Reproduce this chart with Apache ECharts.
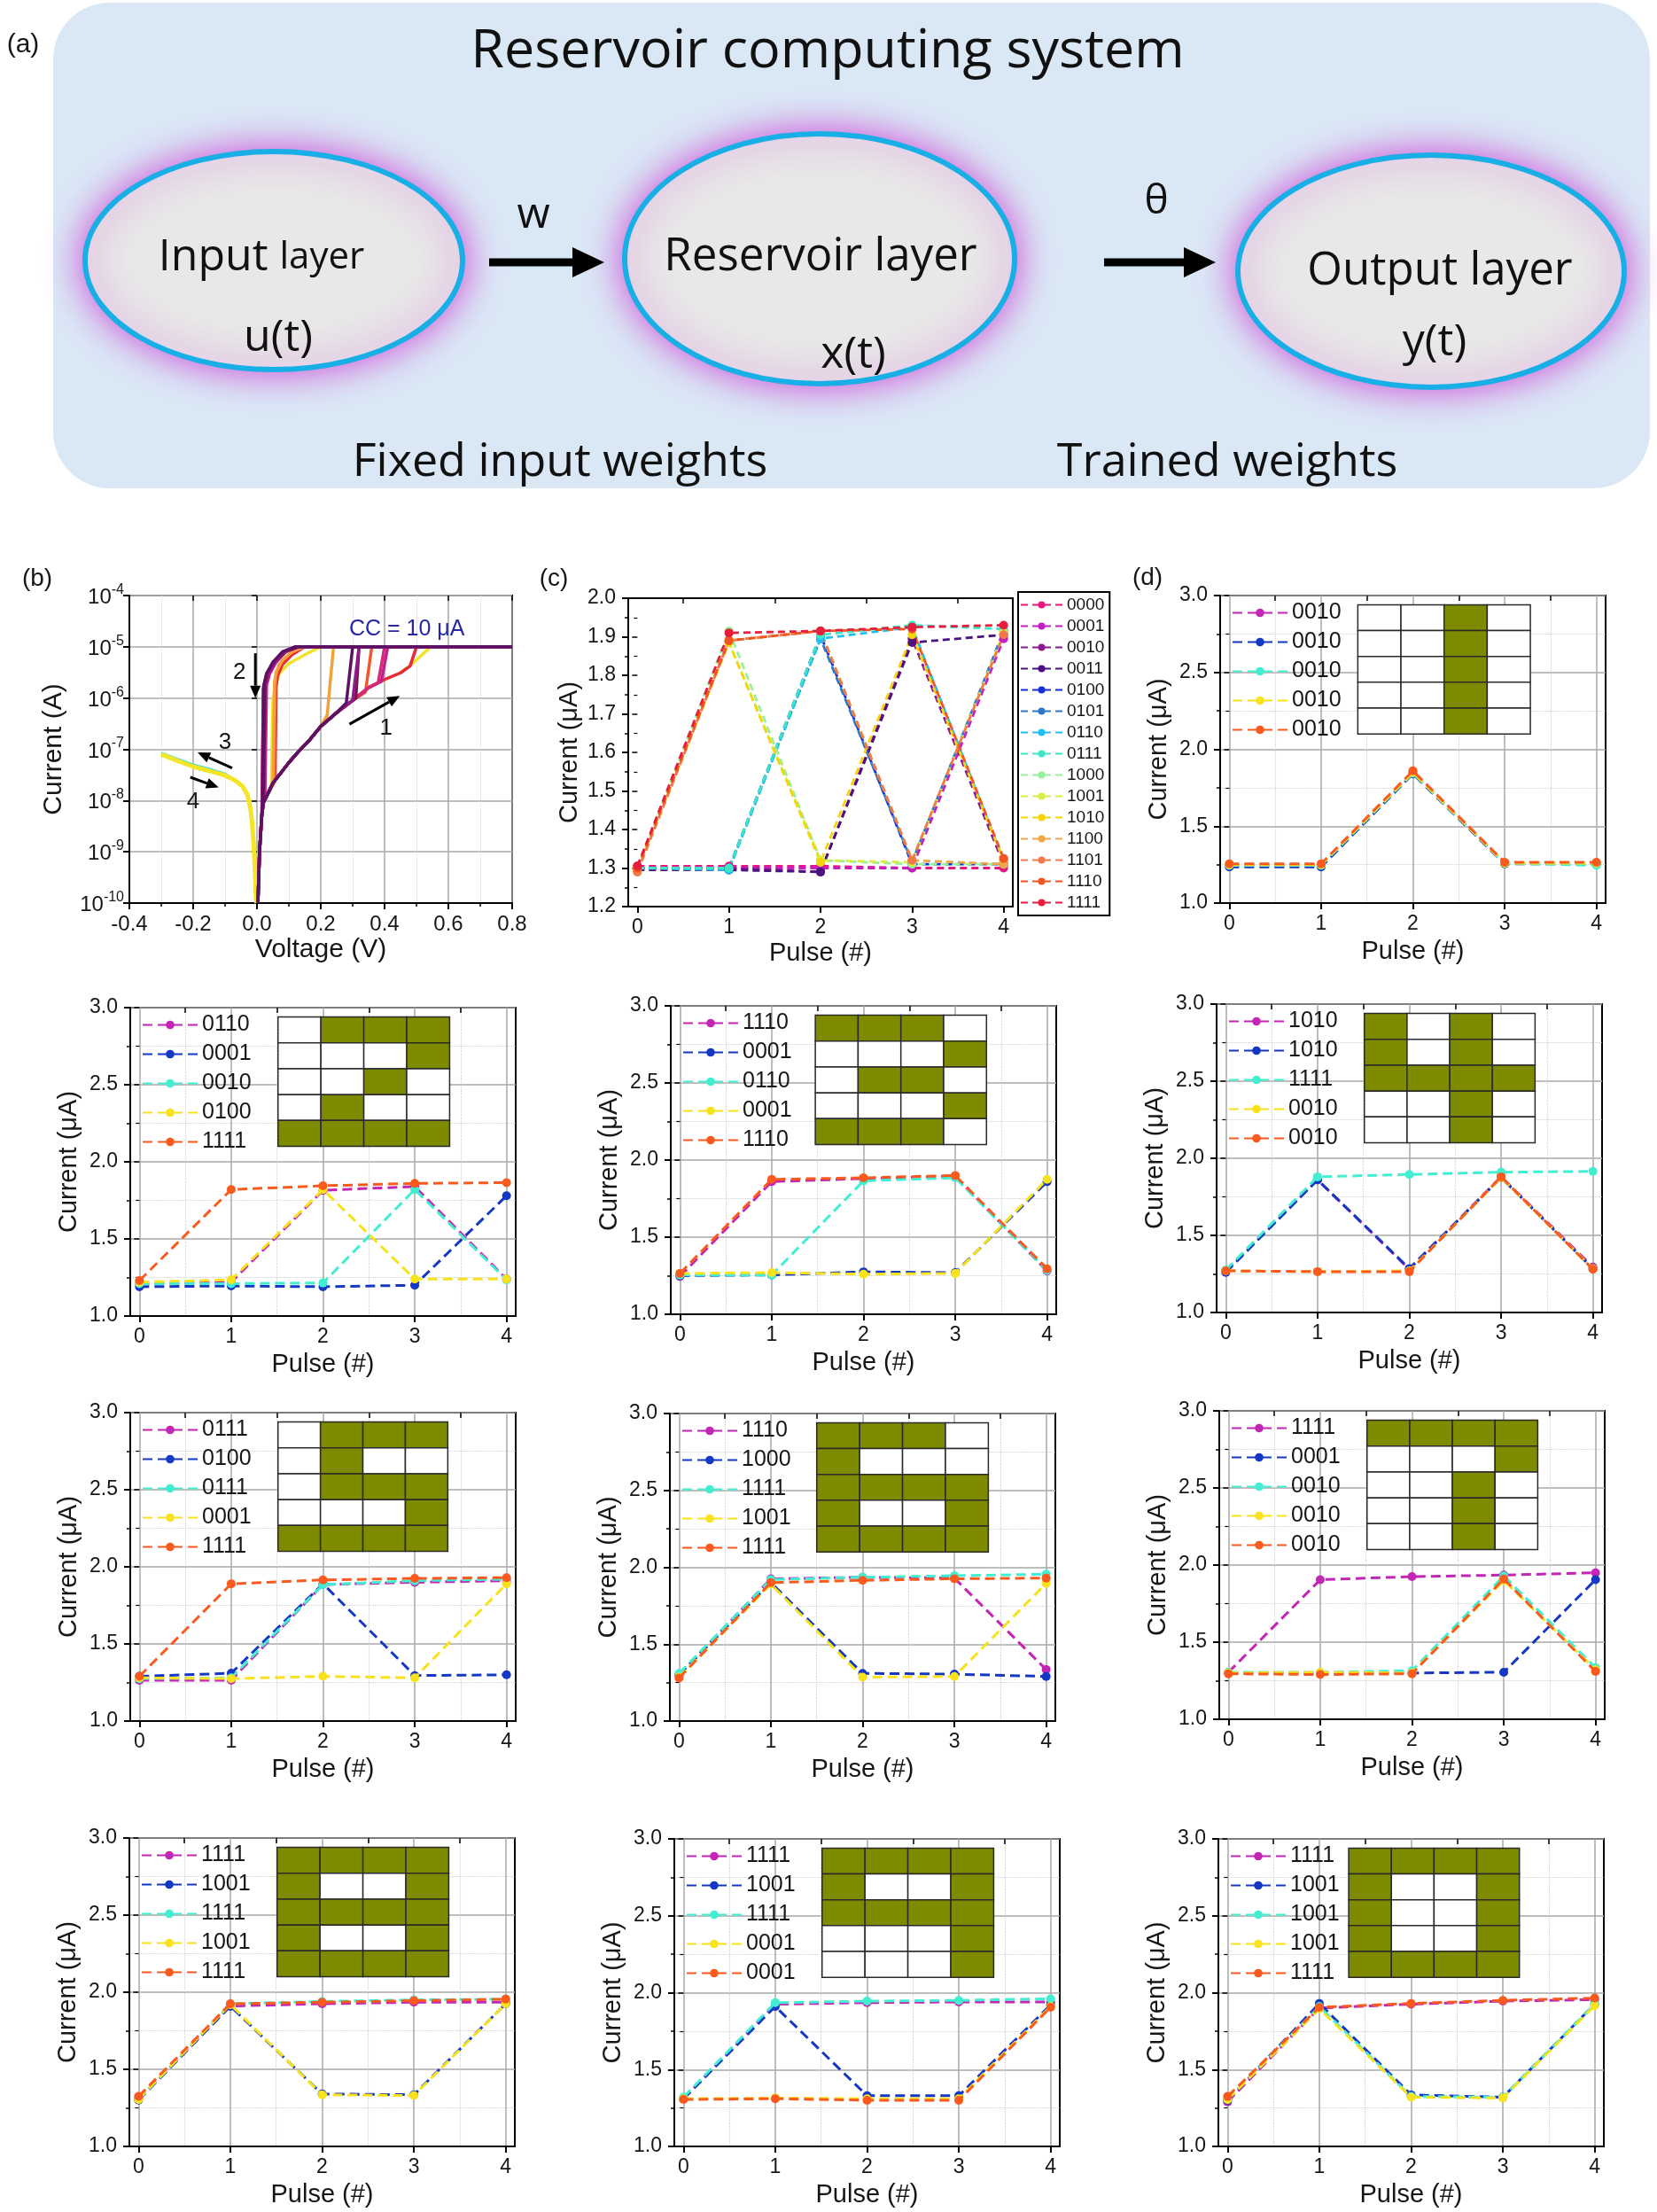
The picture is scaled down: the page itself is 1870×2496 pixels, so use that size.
<!DOCTYPE html>
<html><head><meta charset="utf-8">
<script src="https://cdn.jsdelivr.net/npm/echarts@6/dist/echarts.min.js"></script>
<style>html,body{margin:0;padding:0;background:#fff}#c{width:1870px;height:2496px}</style>
</head><body><div id="c"></div>
<script>
// ================= DATA =================
const pulseTicks = [0, 1, 2, 3, 4];
const pulseHalf = [0.5, 1.5, 2.5, 3.5];

// ---- panel (b): I-V sweeps ----
const ivForwardV = [0.003, 0.008, 0.015, 0.02, 0.03, 0.05, 0.08, 0.10, 0.13, 0.16, 0.20, 0.25, 0.30, 0.35, 0.40, 0.45, 0.48];
const ivForwardI = [1e-10, 1e-9, 5e-9, 9e-9, 1.2e-8, 2.2e-8, 3.8e-8, 5.5e-8, 9e-8, 1.4e-7, 2.8e-7, 5.2e-7, 9e-7, 1.6e-6, 2.3e-6, 3.1e-6, 4.2e-6];
const ivSetV    = [0.22, 0.28, 0.30, 0.31, 0.34, 0.38, 0.39, 0.48, 0.48];
const ivSetI    = [4.6e-7, 8e-7, 9e-7, 1e-6, 1.3e-6, 2e-6, 2.1e-6, 4.2e-6, 4.3e-6];
const ivSetTopV = [0.24, 0.30, 0.32, 0.32, 0.36, 0.40, 0.41, 0.50, 0.545];
const ivCompliance = 1e-5;
const ivMaxV = 0.8;
const ivReturn = [
  [[0.15,1e-5],[0.11,8e-6],[0.08,5.5e-6],[0.06,3.2e-6],[0.055,2e-6],[0.05,2.2e-8]],
  [[0.12,1e-5],[0.08,8e-6],[0.05,5e-6],[0.03,3e-6],[0.022,1.8e-6],[0.018,9e-9]],
  [[0.12,1e-5],[0.08,7.5e-6],[0.05,4.5e-6],[0.03,2.7e-6],[0.02,1.5e-6],[0.016,6e-9]],
  [[0.13,1e-5],[0.09,8e-6],[0.055,5e-6],[0.035,3e-6],[0.025,1.8e-6],[0.02,9e-9]],
  [[0.14,1e-5],[0.10,7e-6],[0.07,4.5e-6],[0.06,2.8e-6],[0.058,1.6e-6],[0.055,2.3e-8]],
  [[0.12,1e-5],[0.085,8e-6],[0.05,5e-6],[0.03,3e-6],[0.02,1.6e-6],[0.015,5e-9]],
  [[0.13,1e-5],[0.09,8e-6],[0.06,5e-6],[0.04,3e-6],[0.03,1.8e-6],[0.025,1.1e-8]],
  [[0.15,1e-5],[0.11,7e-6],[0.08,4.5e-6],[0.065,2.8e-6],[0.06,1.6e-6],[0.057,2.5e-8]],
  [[0.20,1e-5],[0.15,7e-6],[0.10,4.7e-6],[0.07,3e-6],[0.06,2e-6],[0.05,1e-6],[0.045,2e-8]]
];
const ivNegV = [-0.001, -0.003, -0.006, -0.01, -0.015, -0.02, -0.03, -0.045, -0.07, -0.1, -0.15, -0.2, -0.25, -0.3];
const ivNegI = [1e-10, 1.2e-10, 4e-10, 1.3e-9, 3.5e-9, 6.8e-9, 1.3e-8, 1.9e-8, 2.5e-8, 3.1e-8, 3.8e-8, 4.6e-8, 6e-8, 8e-8];
const ivNegCyanV = [-0.05, -0.1, -0.15, -0.2, -0.25, -0.3];
const ivNegCyanI = [2.1e-8, 3.4e-8, 4.2e-8, 5.1e-8, 6.6e-8, 8.6e-8];

// ---- panel (c): all 4-bit inputs ----
const cNames = ['0000','0001','0010','0011','0100','0101','0110','0111','1000','1001','1010','1100','1101','1110','1111'];
const cValues = [
  [1.305,1.305,1.305,1.300,1.300],
  [1.300,1.300,1.300,1.300,1.895],
  [1.300,1.300,1.290,1.895,1.310],
  [1.295,1.295,1.290,1.885,1.905],
  [1.300,1.300,1.905,1.310,1.310],
  [1.300,1.300,1.895,1.315,1.915],
  [1.300,1.295,1.895,1.925,1.320],
  [1.300,1.300,1.905,1.930,1.920],
  [1.300,1.915,1.320,1.310,1.310],
  [1.295,1.885,1.320,1.315,1.910],
  [1.300,1.885,1.315,1.905,1.320],
  [1.290,1.890,1.915,1.320,1.310],
  [1.290,1.890,1.915,1.320,1.905],
  [1.300,1.890,1.915,1.920,1.325],
  [1.305,1.910,1.915,1.925,1.930]
];

// ---- panel (d): digit patterns (5 rows each) ----
const dLabels0 = ['0010','0010','0010','0010','0010'];
const dLabels1 = ['0110','0001','0010','0100','1111'];
const dLabels2 = ['1110','0001','0110','0001','1110'];
const dLabels3 = ['1010','1010','1111','0010','0010'];
const dLabels4 = ['0111','0100','0111','0001','1111'];
const dLabels5 = ['1110','1000','1111','1001','1111'];
const dLabels6 = ['1111','0001','0010','0010','0010'];
const dLabels7 = ['1111','1001','1111','1001','1111'];
const dLabels8 = ['1111','1001','1111','0001','0001'];
const dLabels9 = ['1111','1001','1001','1001','1111'];

const dInset0 = ['0010','0010','0010','0010','0010'];
const dInset1 = ['0111','0001','0010','0100','1111'];
const dInset2 = ['1110','0001','0110','0001','1110'];
const dInset3 = ['1010','1010','1111','0010','0010'];
const dInset4 = ['0111','0100','0111','0001','1111'];
const dInset5 = ['1110','1000','1111','1001','1111'];
const dInset6 = ['1111','0001','0010','0010','0010'];
const dInset7 = ['1111','1001','1111','1001','1111'];
const dInset8 = ['1111','1001','1111','0001','0001'];
const dInset9 = ['1111','1001','1001','1001','1111'];

const dValues0 = [[1.25,1.25,1.85,1.26,1.26],[1.235,1.235,1.84,1.255,1.255],[1.245,1.245,1.845,1.26,1.245],[1.25,1.25,1.85,1.26,1.26],[1.255,1.255,1.86,1.265,1.265]];
const dValues1 = [[1.21,1.22,1.815,1.84,1.24],[1.19,1.195,1.19,1.20,1.78],[1.21,1.21,1.215,1.82,1.235],[1.22,1.235,1.82,1.24,1.24],[1.23,1.82,1.845,1.86,1.865]];
const dValues2 = [[1.245,1.86,1.88,1.895,1.28],[1.25,1.255,1.275,1.27,1.86],[1.255,1.255,1.865,1.885,1.285],[1.265,1.27,1.26,1.265,1.875],[1.265,1.875,1.885,1.90,1.295]];
const dValues3 = [[1.27,1.86,1.28,1.88,1.295],[1.26,1.86,1.285,1.875,1.285],[1.275,1.88,1.895,1.91,1.915],[1.27,1.265,1.27,1.875,1.285],[1.27,1.265,1.265,1.88,1.28]];
const dValues4 = [[1.265,1.265,1.885,1.90,1.91],[1.29,1.31,1.89,1.295,1.30],[1.275,1.28,1.885,1.91,1.92],[1.28,1.275,1.29,1.28,1.89],[1.29,1.89,1.915,1.925,1.93]];
const dValues5 = [[1.30,1.925,1.935,1.93,1.335],[1.30,1.90,1.31,1.305,1.29],[1.31,1.92,1.935,1.945,1.955],[1.285,1.89,1.285,1.29,1.895],[1.28,1.90,1.915,1.925,1.93]];
const dValues6 = [[1.305,1.905,1.925,1.935,1.95],[1.30,1.30,1.30,1.305,1.905],[1.305,1.305,1.315,1.93,1.335],[1.30,1.305,1.30,1.90,1.32],[1.295,1.29,1.295,1.91,1.31]];
const dValues7 = [[1.31,1.91,1.925,1.935,1.935],[1.30,1.91,1.34,1.335,1.925],[1.305,1.925,1.94,1.95,1.955],[1.305,1.92,1.335,1.33,1.925],[1.325,1.925,1.935,1.945,1.955]];
const dValues8 = [[1.31,1.925,1.935,1.94,1.94],[1.31,1.91,1.33,1.33,1.92],[1.32,1.935,1.945,1.95,1.96],[1.31,1.315,1.31,1.31,1.91],[1.305,1.31,1.30,1.30,1.905]];
const dValues9 = [[1.29,1.90,1.925,1.945,1.955],[1.30,1.93,1.335,1.32,1.925],[1.305,1.91,1.325,1.32,1.925],[1.305,1.895,1.32,1.315,1.915],[1.325,1.905,1.93,1.95,1.965]];

// ================= STYLE / LAYOUT =================
const FONT = '"Liberation Sans", Arial, sans-serif';
const FONT_A = '"Open Sans", "Noto Sans", sans-serif';
const TXT = '#161616';
const OLIVE = '#7e8b00';
const dColors = ['#c325b4', '#1438c4', '#42eed2', '#f7e21c', '#fa5a1e'];
const cColors = ['#e8177f','#c31fc3','#8a1a8f','#4c1282','#1531d6','#2f78c4','#1fc0f0','#3fe6c4','#98f09a','#d8ee40','#f6d40a','#f2a64a','#f07a4a','#f25420','#e81d3c'];
const ivColors = ['#f2a23a','#5c1262','#8b1c8c','#7d1446','#f0582a','#d42a7e','#c0208e','#e8283c','#f2e22a'];
const ivOrder = [8, 7, 4, 0, 6, 5, 3, 2, 1];

const W = 435, H = 348;
const dPanels = [
  {labels:dLabels0, inset:dInset0, values:dValues0, box:{left:1377, top:672, width:W, height:347}, ix:[1.40,3.28]},
  {labels:dLabels1, inset:dInset1, values:dValues1, box:{left:147, top:1137, width:W, height:H}, ix:[1.51,3.38]},
  {labels:dLabels2, inset:dInset2, values:dValues2, box:{left:757, top:1135, width:W, height:H}, ix:[1.475,3.34]},
  {labels:dLabels3, inset:dInset3, values:dValues3, box:{left:1373, top:1133, width:W, height:H}, ix:[1.51,3.37]},
  {labels:dLabels4, inset:dInset4, values:dValues4, box:{left:147, top:1594, width:W, height:H}, ix:[1.51,3.36]},
  {labels:dLabels5, inset:dInset5, values:dValues5, box:{left:756, top:1595, width:W, height:347}, ix:[1.50,3.37]},
  {labels:dLabels6, inset:dInset6, values:dValues6, box:{left:1376, top:1592, width:W, height:H}, ix:[1.51,3.37]},
  {labels:dLabels7, inset:dInset7, values:dValues7, box:{left:146, top:2074, width:W, height:H}, ix:[1.51,3.38]},
  {labels:dLabels8, inset:dInset8, values:dValues8, box:{left:761, top:2075, width:W, height:347}, ix:[1.51,3.38]},
  {labels:dLabels9, inset:dInset9, values:dValues9, box:{left:1375, top:2075, width:W, height:347}, ix:[1.32,3.18]}
];
const INSET_Y = [2.10, 2.94];

// ================= BUILD =================
const grids = [], xAxes = [], yAxes = [], series = [], legends = [];
const labelMap = {};
const axisText = {fontSize:23, fontFamily:FONT, color:TXT};
const nameText = {fontSize:29, fontFamily:FONT, color:TXT};

function addGrid(b) {
  grids.push({left:b.left, top:b.top, width:b.width, height:b.height, show:true, borderColor:'#000', borderWidth:2, backgroundColor:'rgba(0,0,0,0)', containLabel:false});
  return grids.length - 1;
}

function pulseAxes(g, yMin, yMax, yInt, o) {
  const xi = xAxes.length, yi = yAxes.length;
  xAxes.push({gridIndex:g, type:'value', min:-0.1, max:4.1, position:'bottom',
    name:'Pulse (#)', nameLocation:'middle', nameGap:o.xGap, nameTextStyle:nameText,
    axisLine:{show:true, onZero:false, lineStyle:{color:'#000', width:2}},
    axisTick:{show:true, customValues:pulseTicks, length:7, lineStyle:{color:'#000', width:2}},
    axisLabel:{show:true, customValues:pulseTicks, margin:12, ...axisText},
    splitLine:{show:o.grid, lineStyle:{color:'#a8a8a8', width:1.5}}});
  xAxes.push({gridIndex:g, type:'value', min:-0.1, max:4.1, position:'top',
    axisLine:{show:false}, axisLabel:{show:false},
    axisTick:{show:true, inside:true, customValues:pulseHalf, length:6, lineStyle:{color:'#000', width:1.5}},
    splitLine:{show:o.grid, lineStyle:{color:'#cfcfcf', width:1.2, type:'dotted'}}});
  yAxes.push({gridIndex:g, type:'value', min:yMin, max:yMax, interval:yInt, position:'left',
    name:'Current (μA)', nameLocation:'middle', nameRotate:90, nameGap:o.yGap, nameTextStyle:nameText,
    axisLine:{show:true, onZero:false, lineStyle:{color:'#000', width:2}},
    axisTick:{show:true, length:7, lineStyle:{color:'#000', width:2}},
    minorTick:{show:true, splitNumber:2, length:4, lineStyle:{color:'#000', width:1.5}},
    axisLabel:{margin:14, ...axisText, formatter:v => v.toFixed(1)},
    splitLine:{show:o.grid, lineStyle:{color:'#a8a8a8', width:1.5}},
    minorSplitLine:{show:o.grid, lineStyle:{color:'#cfcfcf', width:1.2, type:'dotted'}}});
  yAxes.push({gridIndex:g, type:'value', min:yMin, max:yMax, interval:yInt, position:'right',
    axisLine:{show:false}, axisLabel:{show:false},
    axisTick:{show:true, inside:true, length:6, lineStyle:{color:'#000', width:1.5}},
    minorTick:{show:true, splitNumber:2, length:4, lineStyle:{color:'#000', width:1.2}},
    splitLine:{show:false}});
  return [xi, yi];
}

// ---------- panel (b) ----------
let bAxes;
(function () {
  const g = addGrid({left:146, top:672, width:432, height:347});
  const xi = xAxes.length, yi = yAxes.length;
  bAxes = {xAxisIndex:xi, yAxisIndex:yi};
  xAxes.push({gridIndex:g, type:'value', min:-0.4, max:0.8, interval:0.2, position:'bottom',
    name:'Voltage (V)', nameLocation:'middle', nameGap:38, nameTextStyle:{...nameText, fontSize:30},
    axisLine:{show:true, onZero:false, lineStyle:{color:'#000', width:2}},
    axisTick:{show:true, length:7, lineStyle:{color:'#000', width:2}},
    minorTick:{show:true, splitNumber:2, length:4, lineStyle:{color:'#000', width:1.5}},
    axisLabel:{margin:12, ...axisText, fontSize:24, formatter:v => v.toFixed(1)},
    splitLine:{show:true, lineStyle:{color:'#a8a8a8', width:1.5}},
    minorSplitLine:{show:true, lineStyle:{color:'#d4d4d4', width:1, type:'dotted'}}});
  xAxes.push({gridIndex:g, type:'value', min:-0.4, max:0.8, interval:0.2, position:'top',
    axisLine:{show:false}, axisLabel:{show:false},
    axisTick:{show:true, inside:true, length:6, lineStyle:{color:'#000', width:1.5}}, splitLine:{show:false}});
  yAxes.push({gridIndex:g, type:'log', logBase:10, min:1e-10, max:1e-4, splitNumber:6, position:'left',
    name:'Current (A)', nameLocation:'middle', nameRotate:90, nameGap:70, nameTextStyle:{...nameText, fontSize:30},
    axisLine:{show:true, onZero:false, lineStyle:{color:'#000', width:2}},
    axisTick:{show:true, length:7, lineStyle:{color:'#000', width:2}},
    axisLabel:{margin:6, formatter:v => '{b|10}{s|' + Math.round(Math.log10(v)) + '}',
      rich:{b:{fontSize:24, fontFamily:FONT, color:TXT, verticalAlign:'bottom'},
            s:{fontSize:16, fontFamily:FONT, color:TXT, verticalAlign:'bottom', padding:[0,0,13,0]}}},
    splitLine:{show:true, lineStyle:{color:'#a8a8a8', width:1.5}}});
  yAxes.push({gridIndex:g, type:'log', logBase:10, min:1e-10, max:1e-4, splitNumber:6, position:'right',
    axisLine:{show:false}, axisLabel:{show:false},
    axisTick:{show:true, inside:true, length:6, lineStyle:{color:'#000', width:1.5}}, splitLine:{show:false}});

  const minorLines = [];
  for (let e = -10; e < -4; e++) for (let m = 2; m <= 9; m++) minorLines.push({yAxis: m * Math.pow(10, e)});

  series.push({type:'line', xAxisIndex:xi, yAxisIndex:yi, data:ivNegCyanV.map((v, k) => [v, ivNegCyanI[k]]),
    symbol:'none', lineStyle:{color:'#3fd8e0', width:2}, z:2,
    markLine:{silent:true, symbol:'none', label:{show:false}, animation:false,
      lineStyle:{color:'#d4d4d4', width:1, type:'dotted'}, data:minorLines}});
  series.push({type:'line', xAxisIndex:xi, yAxisIndex:yi, data:ivNegV.map((v, k) => [v, ivNegI[k]]),
    symbol:'none', lineStyle:{color:'#f4e626', width:5}, z:3});

  ivOrder.forEach((c, n) => {
    const pts = [];
    ivForwardV.forEach((v, k) => { if (v < ivSetV[c]) pts.push([v, ivForwardI[k]]); });
    pts.push([ivSetV[c], ivSetI[c]]);
    pts.push([ivSetTopV[c], ivCompliance]);
    pts.push([ivMaxV, ivCompliance]);
    ivReturn[c].forEach(p => pts.push(p));
    const dropV = ivReturn[c][ivReturn[c].length - 1][0];
    for (let k = ivForwardV.length - 1; k >= 0; k--) if (ivForwardV[k] < dropV) pts.push([ivForwardV[k], ivForwardI[k]]);
    series.push({type:'line', xAxisIndex:xi, yAxisIndex:yi, data:pts, symbol:'none',
      lineStyle:{color:ivColors[c], width:3.5}, z:4 + n});
  });
})();

// ---------- panel (c) ----------
(function () {
  const g = addGrid({left:709, top:675, width:434, height:348});
  const [xi, yi] = pulseAxes(g, 1.2, 2.0, 0.1, {grid:false, xGap:38, yGap:52});
  cNames.forEach((n, k) => {
    series.push({type:'line', name:n, xAxisIndex:xi, yAxisIndex:yi,
      data:pulseTicks.map((p, j) => [p, cValues[k][j]]),
      symbol:'circle', symbolSize:10, lineStyle:{color:cColors[k], width:2.8, type:[8,5]},
      itemStyle:{color:cColors[k]}, z:3});
  });
  legends.push({data:cNames, orient:'vertical', left:1149, top:668, padding:[5,6,5,2],
    borderColor:'#000', borderWidth:2, backgroundColor:'#fff', itemWidth:47, itemHeight:10, itemGap:5,
    selectedMode:false, textStyle:{fontSize:19, fontFamily:FONT, color:TXT, lineHeight:19}});
})();

// ---------- panel (d) ----------
dPanels.forEach((P, pi) => {
  const g = addGrid(P.box);
  const [xi, yi] = pulseAxes(g, 1.0, 3.0, 0.5, {grid:true, xGap:40, yGap:55});
  const [x0, x1] = P.ix, [y0, y1] = INSET_Y;
  const cells = [];
  P.inset.forEach((row, r) => row.split('').forEach((b, c) => cells.push([c, r, +b])));
  series.push({type:'custom', xAxisIndex:xi, yAxisIndex:yi, data:cells, silent:true, z:3,
    renderItem:(params, api) => {
      const c = api.value(0), r = api.value(1), on = api.value(2);
      const cw = (x1 - x0) / 4, rh = (y1 - y0) / 5;
      const a = api.coord([x0 + c * cw, y1 - r * rh]);
      const b = api.coord([x0 + (c + 1) * cw, y1 - (r + 1) * rh]);
      return {type:'rect', shape:{x:a[0], y:a[1], width:b[0] - a[0], height:b[1] - a[1]},
        style:{fill:on ? OLIVE : '#ffffff', stroke:'#2a2a2a', lineWidth:1.5}};
    }});
  const names = [];
  P.values.forEach((vals, k) => {
    const id = 'd' + pi + '_' + k;
    names.push(id);
    labelMap[id] = P.labels[k];
    series.push({type:'line', name:id, xAxisIndex:xi, yAxisIndex:yi,
      data:pulseTicks.map((p, j) => [p, vals[j]]),
      symbol:'circle', symbolSize:10, lineStyle:{color:dColors[k], width:3, type:[11,6]},
      itemStyle:{color:dColors[k]}, z:4 + k});
  });
  legends.push({data:names, orient:'vertical', left:P.box.left + 13, top:P.box.top + 7, padding:0,
    itemWidth:62, itemHeight:12, itemGap:8, selectedMode:false,
    formatter:n => labelMap[n], textStyle:{fontSize:25, fontFamily:FONT, color:TXT, lineHeight:24}});
});

// ================= GRAPHICS (panel a + annotations) =================
function arrow(x1, y1, x2, y2, w, head, hw) {
  const ang = Math.atan2(y2 - y1, x2 - x1);
  const bx = x2 - head * Math.cos(ang), by = y2 - head * Math.sin(ang);
  const px = -Math.sin(ang) * hw, py = Math.cos(ang) * hw;
  return [
    {type:'line', z:100, shape:{x1:x1, y1:y1, x2:bx, y2:by}, style:{stroke:'#000', lineWidth:w}},
    {type:'polygon', z:100, shape:{points:[[x2, y2], [bx + px, by + py], [bx - px, by - py]]}, style:{fill:'#000'}}
  ];
}
function txt(x, y, text, size, opts) {
  return Object.assign({type:'text', x:x, y:y, z:100},
    {style:Object.assign({text:text, fontSize:size, fontFamily:FONT, fill:TXT, align:'center', verticalAlign:'middle'}, opts || {})});
}
function ell(cx, cy, rx, ry) {
  return {type:'ellipse', z:5, shape:{cx:cx, cy:cy, rx:rx, ry:ry},
    style:{fill:'#e8e8e8', stroke:'#18aee6', lineWidth:6, shadowBlur:40, shadowColor:'rgba(206,72,214,1)'}};
}

const chart = echarts.init(document.getElementById('c'), null, {renderer:'canvas', width:1870, height:2496});
chart.setOption({
  animation:false,
  backgroundColor:'#ffffff',
  textStyle:{fontFamily:FONT},
  grid:grids, xAxis:xAxes, yAxis:yAxes, series:series, legend:legends
});

// annotation anchors for panel (b), in data units (V, A)
const bArrows = [[[0.29, 3.1e-7], [0.448, 1.1e-6]], [[-0.005, 7.5e-6], [-0.005, 1e-6]], [[-0.078, 4.3e-8], [-0.186, 8.7e-8]], [[-0.209, 2.85e-8], [-0.12, 1.8e-8]]];
const bNumbers = [['1', 0.405, 2.6e-7], ['2', -0.055, 3.2e-6], ['3', -0.10, 1.35e-7], ['4', -0.20, 9.3e-9]];
const bCC = ['CC = 10 μA', 0.47, 2.2e-5];
const px = p => chart.convertToPixel(bAxes, p);

const gfx = [
  {type:'rect', z:1, shape:{x:60, y:3, width:1802, height:548, r:64}, style:{fill:'#dae8f5'}},
  txt(26, 51, '(a)', 30),
  txt(934, 59, 'Reservoir computing system', 61, {fontFamily:FONT_A, fill:'#111'}),
  ell(309, 294, 213, 123),
  ell(925, 292, 220, 141),
  ell(1615, 306, 218, 131),
  txt(295, 291, '{a|Input} {b|layer}', 50, {fontFamily:FONT_A, rich:{a:{fontSize:50, fontFamily:FONT_A, fill:'#111'}, b:{fontSize:42, fontFamily:FONT_A, fill:'#111'}}}),
  txt(314, 382, 'u(t)', 50, {fontFamily:FONT_A, fill:'#111'}),
  txt(926, 290, 'Reservoir layer', 51, {fontFamily:FONT_A, fill:'#111'}),
  txt(963, 401, 'x(t)', 50, {fontFamily:FONT_A, fill:'#111'}),
  txt(1625, 306, 'Output layer', 51, {fontFamily:FONT_A, fill:'#111'}),
  txt(1619, 387, 'y(t)', 50, {fontFamily:FONT_A, fill:'#111'}),
  txt(602, 243, 'w', 48, {fontFamily:FONT_A, fill:'#111'}),
  txt(1305, 228, 'θ', 46, {fontFamily:FONT_A, fill:'#111'}),
  ...arrow(552, 296, 682, 296, 9, 36, 17),
  ...arrow(1246, 296, 1372, 296, 9, 36, 17),
  txt(632, 522, 'Fixed input weights', 52, {fontFamily:FONT_A, fill:'#111'}),
  txt(1385, 522, 'Trained weights', 52, {fontFamily:FONT_A, fill:'#111'}),
  txt(42, 653, '(b)', 28),
  txt(625, 653, '(c)', 28),
  txt(1295, 652, '(d)', 28)
];
(function () {
  const cc = px([bCC[1], bCC[2]]);
  gfx.push(txt(cc[0], cc[1], bCC[0], 25, {fill:'#2626a8'}));
  bArrows.forEach(a => { const p = px(a[0]), q = px(a[1]); gfx.push(...arrow(p[0], p[1], q[0], q[1], 3, 14, 6)); });
  bNumbers.forEach(n => { const p = px([n[1], n[2]]); gfx.push(txt(p[0], p[1], n[0], 26)); });
})();
chart.setOption({graphic:{elements:gfx}});
</script>
</body></html>
